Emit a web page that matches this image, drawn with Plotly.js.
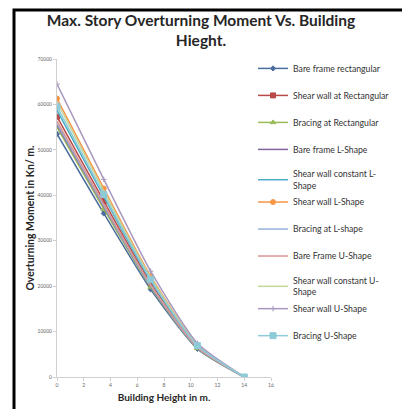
<!DOCTYPE html>
<html>
<head>
<meta charset="utf-8">
<script src="https://cdn.plot.ly/plotly-3.0.1.min.js"></script>
<style>
html,body{margin:0;padding:0;background:#fff;}
#chart{width:402px;height:409px;}
</style>
</head>
<body>
<div id="chart"></div>
<script>
const heights = [0, 3.5, 7, 10.5, 14];
const seriesNames = [
  "Bare frame rectangular",
  "Shear wall at Rectangular",
  "Bracing at Rectangular",
  "Bare frame L-Shape",
  "Shear wall constant L-<br>Shape",
  "Shear wall L-Shape",
  "Bracing at L-shape",
  "Bare Frame U-Shape",
  "Shear wall constant U-<br>Shape",
  "Shear wall U-Shape",
  "Bracing U-Shape"
];
const bareFrameRect      = [53500, 36000, 19300, 6200, 0];
const shearWallRect      = [57300, 38700, 20700, 6700, 0];
const bracingRect        = [55000, 37000, 19800, 6300, 0];
const bareFrameL         = [55500, 37500, 20000, 6400, 0];
const shearWallConstL    = [58700, 39700, 21200, 6800, 0];
const shearWallL         = [61300, 41500, 22200, 7100, 0];
const bracingL           = [55800, 37700, 20100, 6450, 0];
const bareFrameU         = [56300, 38000, 20300, 6500, 0];
const shearWallConstU    = [60500, 40900, 21900, 7000, 0];
const shearWallU         = [64500, 43500, 23300, 7400, 0];
const bracingU           = [59500, 40200, 21500, 6900, 0];
const seriesValues = [bareFrameRect, shearWallRect, bracingRect, bareFrameL, shearWallConstL,
  shearWallL, bracingL, bareFrameU, shearWallConstU, shearWallU, bracingU];
// legend grouping: a wrapped entry shares its group with the following entry
const groups = ["a", "b", "c", "d", "e", "e", "f", "g", "h", "h", "i"];

const colors = ["#4A6E9E", "#B84A48", "#9BBB59", "#8064A2", "#4BACC6", "#F79646",
  "#95B3D7", "#D99694", "#C3D69B", "#A898C0", "#8ECBD8"];
const symbols = ["diamond", "square", "triangle-up", "x-thin", "asterisk-open", "circle",
  "line-ns-open", "line-ns-open", "line-ns-open", "cross-thin-open", "square"];
const msize = [4, 5, 5, 0, 0, 5, 0, 0, 0, 4, 6];

const traces = seriesNames.map((n, i) => ({
  x: heights, y: seriesValues[i], name: n, type: "scatter", mode: msize[i] ? "lines+markers" : "lines",
  legendgroup: groups[i],
  line: {color: colors[i], width: 1.5, shape: "spline", smoothing: 0.6},
  marker: {symbol: symbols[i], size: msize[i], color: colors[i], line: {color: colors[i], width: 1}}
}));

const FONT = "Lato, 'Open Sans', sans-serif";
const layout = {
  width: 402, height: 409,
  margin: {l: 57, r: 131, t: 59, b: 32, autoexpand: false},
  paper_bgcolor: "#fff", plot_bgcolor: "#fff",
  font: {family: FONT, color: "#222"},
  title: {text: "<b>Max. Story Overturning Moment Vs. Building<br>Hieght.</b>",
    x: 0.5, xref: "container", xanchor: "center", y: 0.937, yref: "container", yanchor: "top",
    font: {family: FONT, size: 15.5, color: "#262626"}},
  xaxis: {range: [0, 16], dtick: 2, tick0: 0, showgrid: false, zeroline: false,
    showline: true, linecolor: "#D0D0D0", linewidth: 1, ticks: "outside", ticklen: 3, tickcolor: "#D0D0D0",
    tickfont: {size: 5, color: "#666"},
    title: {text: "<b>Building Height in m.</b>", font: {size: 10, color: "#262626"}, standoff: 6}},
  yaxis: {range: [0, 70000], dtick: 10000, showgrid: false, zeroline: false,
    showline: true, linecolor: "#D0D0D0", linewidth: 1, ticks: "outside", ticklen: 3, tickcolor: "#D0D0D0",
    tickfont: {size: 5, color: "#666"}, tickformat: "d",
    title: {text: "<b>Overturning Moment in Kn/ m.</b>", font: {size: 10.5, color: "#262626"}, standoff: 0}},
  legend: {x: 0.916, xanchor: "left", y: 1.016, yanchor: "top", tracegroupgap: 8, maxheight: 400,
    font: {size: 8.7, color: "#333"}, bgcolor: "rgba(0,0,0,0)", itemwidth: 30},
  showlegend: true,
  shapes: [{type: "path", xref: "paper", yref: "paper",
    path: "M -0.2009,-0.3 L -0.2009,1.154 L 1.7,1.154",
    line: {color: "#000", width: 3}}]
};
Plotly.newPlot("chart", traces, layout, {displayModeBar: false, staticPlot: true});
</script>
</body>
</html>
